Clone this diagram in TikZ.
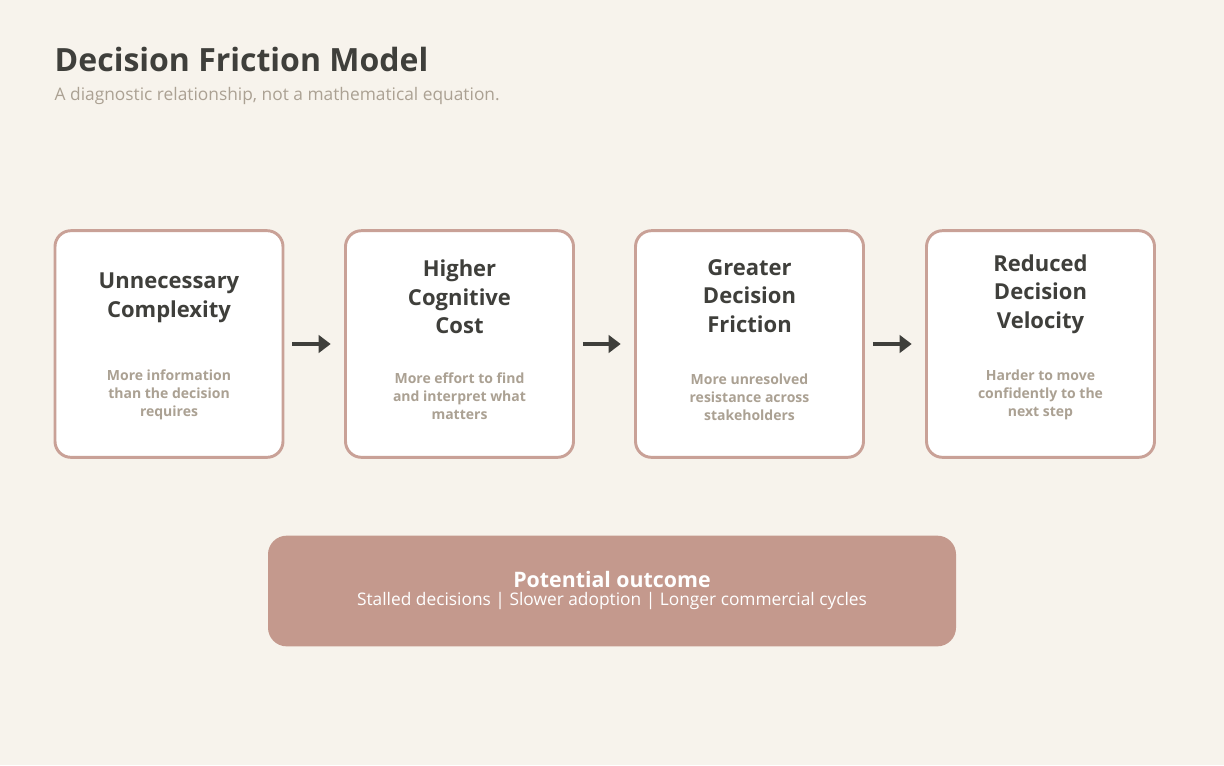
\documentclass[tikz,border=0pt]{standalone}
\usepackage{fontspec}
\setmainfont{Open Sans}
\usetikzlibrary{arrows.meta,positioning}
\definecolor{bgc}{HTML}{F7F3EC}
\definecolor{ink}{HTML}{3F3F3B}
\definecolor{muted}{HTML}{ABA193}
\definecolor{rose}{HTML}{C9A197}
\definecolor{roseFill}{HTML}{C4998D}
\tikzset{
  stage/.style={draw=rose, line width=2.2pt, fill=white, rounded corners=12pt,
    minimum width=171pt, minimum height=170pt},
  head/.style={font=\bfseries\fontsize{16.5}{21.5}\selectfont, text=ink, align=center},
  note/.style={font=\bfseries\fontsize{10.5}{13.5}\selectfont, text=muted, align=center},
  link/.style={-{Triangle[length=9pt,width=13pt]}, line width=3pt, draw=ink}
}
\begin{document}
\begin{tikzpicture}[x=0.75pt,y=-0.75pt]
  \fill[bgc] (0,0) rectangle (1224,765);
  \useasboundingbox (0,0) rectangle (1224,765);

  \node[anchor=base west, font=\bfseries\fontsize{24}{30}\selectfont, text=ink] (title) at (50,71) {Decision Friction Model};
  \node[anchor=base west, font=\fontsize{13}{16}\selectfont, text=muted] (sub) at (50,100) {A diagnostic relationship, not a mathematical equation.};

  \node[stage] (b1) at (169,344) {};
  \node[stage] (b2) at (459.5,344) {};
  \node[stage] (b3) at (749.5,344) {};
  \node[stage] (b4) at (1040.5,344) {};

  \node[head] (h1) at (169,298) {Unnecessary\\Complexity};
  \node[head] (h2) at (459.5,297) {Higher\\Cognitive\\Cost};
  \node[head] (h3) at (749.5,296) {Greater\\Decision\\Friction};
  \node[head] (h4) at (1040.5,294) {Reduced\\Decision\\Velocity};

  \node[note] (n1) at (169,395) {More information\\than the decision\\requires};
  \node[note] (n2) at (459.5,396) {More effort to find\\and interpret what\\matters};
  \node[note] (n3) at (749.5,397) {More unresolved\\resistance across\\stakeholders};
  \node[note] (n4) at (1040.5,395) {Harder to move\\confidently to the\\next step};

  \draw[link] ([xshift=6]b1.east) -- ([xshift=-10]b2.west);
  \draw[link] ([xshift=6]b2.east) -- ([xshift=-10]b3.west);
  \draw[link] ([xshift=6]b3.east) -- ([xshift=-10]b4.west);

  \node[fill=roseFill, rounded corners=14pt, minimum width=516pt, minimum height=83pt] (out) at (612,591) {};
  \node[font=\bfseries\fontsize{16}{20}\selectfont, text=white] (oh) at (612,579) {Potential outcome};
  \node[font=\fontsize{13}{16}\selectfont, text=white] (ot) at (612,601) {Stalled decisions | Slower adoption | Longer commercial cycles};
\end{tikzpicture}
\end{document}
